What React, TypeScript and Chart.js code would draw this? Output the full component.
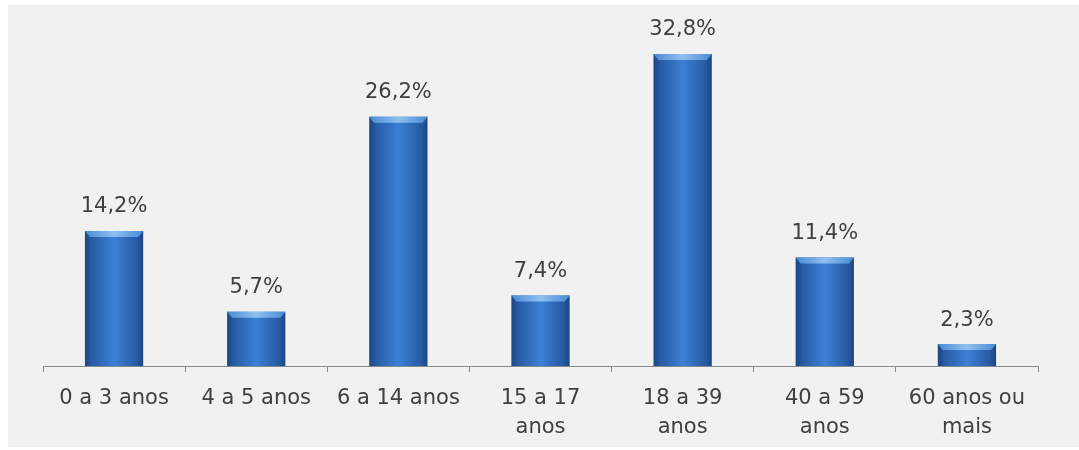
import React, { useEffect, useRef } from "react";
import { Chart, registerables } from "chart.js";

Chart.register(...registerables);

const categories: (string | string[])[] = [
  "0 a 3 anos",
  "4 a 5 anos",
  "6 a 14 anos",
  ["15 a 17", "anos"],
  ["18 a 39", "anos"],
  ["40 a 59", "anos"],
  ["60 anos ou", "mais"],
];
const values = [14.2, 5.7, 26.2, 7.4, 32.8, 11.4, 2.3];
const valueLabels = values.map((v) => v.toFixed(1).replace(".", ",") + "%");

const FONT = "'DejaVu Sans', sans-serif";
const BAR_PCT = 0.41;

const labelPlugin = {
  id: "valueLabels",
  afterDatasetsDraw(chart: any) {
    const ctx = chart.ctx;
    const meta = chart.getDatasetMeta(0);
    ctx.save();
    meta.data.forEach((bar: any, i: number) => {
      const { x, y, width } = bar.getProps(["x", "y", "width"], true);
      // top bevel highlight
      const g = ctx.createLinearGradient(x - width / 2, 0, x + width / 2, 0);
      g.addColorStop(0, "#4a8ad2");
      g.addColorStop(0.5, "#8fc0f2");
      g.addColorStop(1, "#4a8ad2");
      ctx.fillStyle = g;
      ctx.beginPath();
      ctx.moveTo(x - width / 2, y);
      ctx.lineTo(x + width / 2, y);
      ctx.lineTo(x + width / 2 - 5, y + 6);
      ctx.lineTo(x - width / 2 + 5, y + 6);
      ctx.closePath();
      ctx.fill();
      // value label
      ctx.fillStyle = "#404040";
      ctx.font = `21px ${FONT}`;
      ctx.textAlign = "center";
      ctx.textBaseline = "middle";
      ctx.fillText(valueLabels[i], x, y - 24);
    });
    ctx.restore();
  },
};

export default function App() {
  const canvasRef = useRef<HTMLCanvasElement | null>(null);

  useEffect(() => {
    document.body.style.margin = "0";
    const canvas = canvasRef.current!;
    const chart = new Chart(canvas, {
      type: "bar",
      data: {
        labels: categories,
        datasets: [
          {
            data: values,
            barPercentage: BAR_PCT,
            categoryPercentage: 1,
            borderWidth: 0,
            backgroundColor: (c: any) => {
              const ch = c.chart;
              const xs = ch.scales && ch.scales.x;
              if (!xs || c.type !== "data" || !xs.width) return "#2f6fbf";
              const cx = xs.getPixelForValue(c.dataIndex);
              const w = (xs.width / values.length) * BAR_PCT;
              const g = ch.ctx.createLinearGradient(cx - w / 2, 0, cx + w / 2, 0);
              g.addColorStop(0, "#1b4683");
              g.addColorStop(0.12, "#275ca5");
              g.addColorStop(0.5, "#3c80d4");
              g.addColorStop(0.88, "#275ca5");
              g.addColorStop(1, "#1b4683");
              return g;
            },
          },
        ],
      },
      options: {
        animation: false,
        responsive: false,
        maintainAspectRatio: false,
        layout: { padding: { left: 35, right: 41, top: 28, bottom: 0 } },
        plugins: {
          legend: { display: false },
          title: { display: false },
          tooltip: { enabled: false },
        },
        scales: {
          x: {
            grid: {
              display: true,
              drawOnChartArea: false,
              drawTicks: true,
              tickLength: 6,
              color: "#8a8a8a",
              offset: true,
            },
            border: { display: true, color: "#8a8a8a", width: 1 },
            ticks: {
              color: "#404040",
              font: { family: FONT, size: 21, lineHeight: 1.38 },
              padding: 12,
              maxRotation: 0,
              autoSkip: false,
            },
            afterFit: (s: any) => {
              s.height = 81;
            },
          },
          y: {
            display: false,
            min: 0,
            max: 35,
          },
        },
      },
      plugins: [labelPlugin],
    });
    return () => chart.destroy();
  }, []);

  return (
    <div
      style={{
        position: "fixed",
        left: 0,
        top: 0,
        width: 1079,
        height: 450,
        background: "#ffffff",
      }}
    >
      <canvas
        ref={canvasRef}
        width={1071}
        height={442}
        style={{
          position: "absolute",
          left: 8,
          top: 5,
          width: 1071,
          height: 442,
          background: "#f1f1f1",
        }}
      />
    </div>
  );
}
